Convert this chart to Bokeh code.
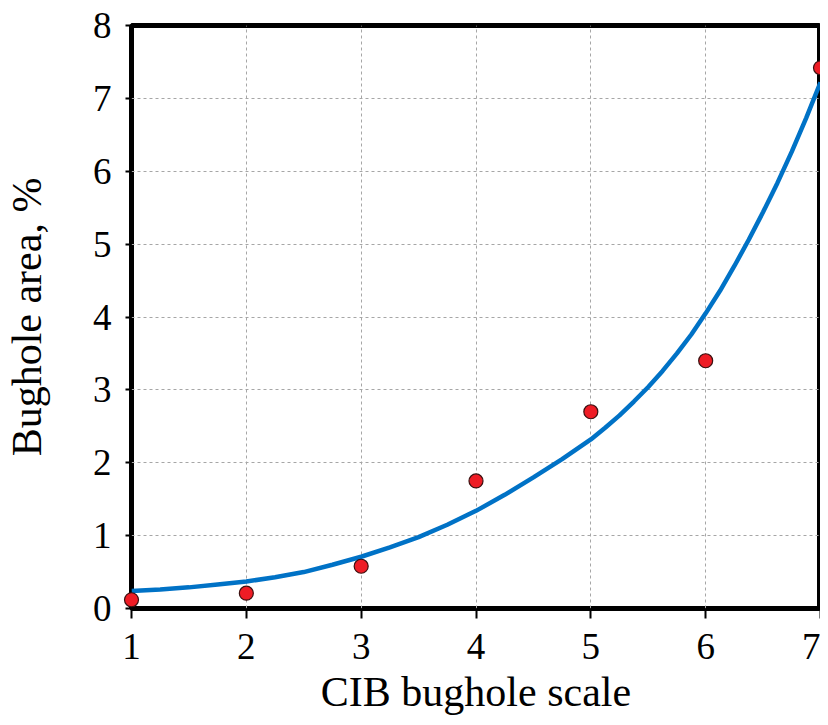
from bokeh.plotting import figure
from bokeh.embed import file_html
from bokeh.resources import INLINE
from bokeh.models import Range1d, FixedTicker

# measured data points
scale_x = [1, 2, 3, 4, 5, 6, 7]
area_y = [0.12, 0.21, 0.58, 1.75, 2.70, 3.40, 7.42]

# fitted curve
curve_x = [1.0, 1.25, 1.5, 1.75, 2.0, 2.25, 2.5, 2.75, 3.0, 3.25, 3.5, 3.75, 4.0,
           4.25, 4.5, 4.75, 5.0, 5.125, 5.25, 5.375, 5.5, 5.625, 5.75, 5.875, 6.0,
           6.125, 6.25, 6.375, 6.5, 6.625, 6.75, 6.875, 7.0]
curve_y = [0.24, 0.26, 0.29, 0.33, 0.37, 0.43, 0.50, 0.60, 0.71, 0.84, 0.98, 1.15, 1.34,
           1.56, 1.80, 2.05, 2.32, 2.48, 2.65, 2.84, 3.04, 3.26, 3.50, 3.76, 4.05,
           4.36, 4.70, 5.06, 5.44, 5.84, 6.27, 6.73, 7.22]

x_ticks = [1, 2, 3, 4, 5, 6, 7]
y_ticks = [0, 1, 2, 3, 4, 5, 6, 7, 8]

FONT = "Liberation Serif"

p = figure(width=820, height=717, output_backend="svg", toolbar_location=None,
           x_range=Range1d(1, 7), y_range=Range1d(0, 8),
           min_border_left=122, min_border_right=0, min_border_top=25, min_border_bottom=10)

p.outline_line_color = "black"
p.outline_line_width = 5
p.background_fill_color = "white"
p.border_fill_color = "white"

for ax in (p.xaxis, p.yaxis):
    ax.axis_line_color = None
    ax.minor_tick_line_color = None
    ax.major_tick_in = 0
    ax.major_tick_line_color = "black"
    ax.major_tick_line_width = 2
    ax.major_label_text_font = FONT
    ax.major_label_text_font_size = "37px"
    ax.major_label_text_color = "black"
    ax.axis_label_text_font = FONT
    ax.axis_label_text_font_size = "42px"
    ax.axis_label_text_font_style = "normal"
    ax.axis_label_text_color = "black"

p.xaxis.ticker = FixedTicker(ticks=x_ticks)
p.yaxis.ticker = FixedTicker(ticks=y_ticks)
p.xaxis.major_tick_out = 10
p.yaxis.major_tick_out = 6
p.xaxis.major_label_standoff = 15
p.yaxis.major_label_standoff = 14
p.xaxis.axis_label = "CIB bughole scale"
p.yaxis.axis_label = "Bughole area, %"
p.xaxis.axis_label_standoff = 7
p.yaxis.axis_label_standoff = 40
p.yaxis.axis_label_text_baseline = "top"

p.xgrid.grid_line_color = "#a6a6a6"
p.ygrid.grid_line_color = "#a6a6a6"
p.xgrid.grid_line_dash = "3 3"
p.ygrid.grid_line_dash = "3 3"
p.xgrid.grid_line_width = 1
p.ygrid.grid_line_width = 1

p.line(curve_x, curve_y, line_color="#0072C6", line_width=4.5)
p.scatter(scale_x, area_y, size=14, fill_color="#EE1C25", line_color="#3a1010",
          line_width=1.2, level="overlay")

open("out.html", "w").write(file_html(p, INLINE))
